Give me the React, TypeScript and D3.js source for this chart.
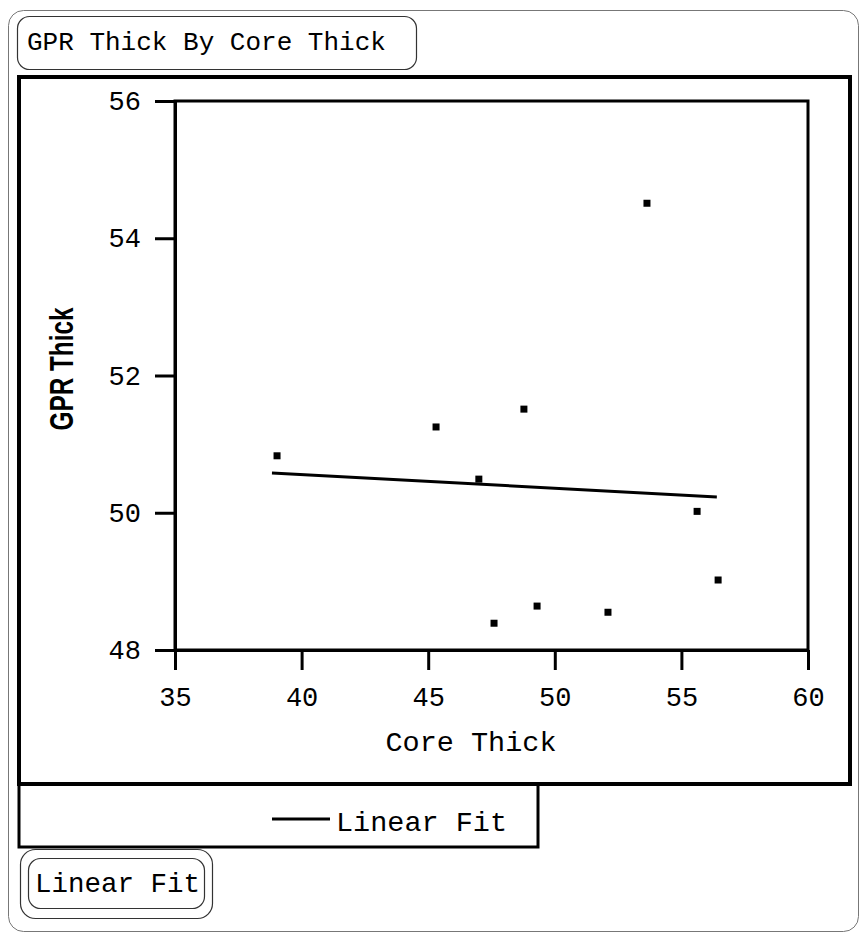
import React, { useEffect, useRef } from 'react';
import * as d3 from 'd3';

// Core Thick (x) vs GPR Thick (y)
const coreThick = [39.03, 45.31, 48.78, 47.0, 53.64, 55.62, 56.45, 47.6, 49.3, 52.1];
const gprThick = [50.83, 51.25, 51.51, 50.49, 54.51, 50.02, 49.02, 48.39, 48.64, 48.55];

// linear fit end points
const fitX = [38.83, 56.4];
const fitY = [50.58, 50.23];

const xTicks = [35, 40, 45, 50, 55, 60];
const yTicks = [48, 50, 52, 54, 56];

const mono = '"Liberation Mono", "Courier New", monospace';

function App() {
  const ref = useRef<SVGSVGElement>(null);
  const width = 860;
  const height = 935;

  useEffect(() => {
    drawChart();
  }, []);

  function drawChart() {
    const svg = d3.select(ref.current);
    svg.selectAll('*').remove();

    const plot = { left: 175, right: 808, top: 101, bottom: 650 };

    const xScale = d3.scaleLinear().domain([35, 60]).range([plot.left, plot.right]);
    const yScale = d3.scaleLinear().domain([48, 56]).range([plot.bottom, plot.top]);

    // outer window frame
    svg.append('rect')
      .attr('x', 8.5).attr('y', 10.5)
      .attr('width', 850).attr('height', 921)
      .attr('rx', 15)
      .attr('fill', 'none')
      .attr('stroke', '#777')
      .attr('stroke-width', 1);

    // title box
    svg.append('rect')
      .attr('x', 17.5).attr('y', 16.5)
      .attr('width', 399).attr('height', 53)
      .attr('rx', 12)
      .attr('fill', 'none')
      .attr('stroke', '#333')
      .attr('stroke-width', 1.2);
    svg.append('text')
      .attr('x', 27).attr('y', 50)
      .attr('font-family', mono)
      .attr('font-size', 26)
      .text('GPR Thick By Core Thick');

    // plot frame
    svg.append('rect')
      .attr('x', 19).attr('y', 77)
      .attr('width', 831).attr('height', 707)
      .attr('fill', 'none')
      .attr('stroke', '#000')
      .attr('stroke-width', 4);

    // legend box
    svg.append('rect')
      .attr('x', 19).attr('y', 784)
      .attr('width', 519).attr('height', 63)
      .attr('fill', 'none')
      .attr('stroke', '#000')
      .attr('stroke-width', 3);

    const g = svg.append('g');

    // axes box
    g.append('rect')
      .attr('x', plot.left).attr('y', plot.top)
      .attr('width', plot.right - plot.left)
      .attr('height', plot.bottom - plot.top)
      .attr('fill', 'none')
      .attr('stroke', '#000')
      .attr('stroke-width', 3);

    const xAxis = g.append('g')
      .attr('transform', `translate(0,${plot.bottom})`)
      .call(d3.axisBottom(xScale).tickValues(xTicks).tickSize(20).tickSizeOuter(0).tickPadding(17));
    const yAxis = g.append('g')
      .attr('transform', `translate(${plot.left},0)`)
      .call(d3.axisLeft(yScale).tickValues(yTicks).tickSize(20).tickSizeOuter(0).tickPadding(14));

    [xAxis, yAxis].forEach(a => {
      a.select('.domain').attr('stroke', '#000').attr('stroke-width', 3);
      a.selectAll('.tick line').attr('stroke', '#000').attr('stroke-width', 3);
      a.selectAll('.tick text')
        .attr('fill', '#000')
        .attr('font-family', mono)
        .attr('font-size', 27);
    });

    // axis titles
    g.append('text')
      .attr('x', 471).attr('y', 751)
      .attr('text-anchor', 'middle')
      .attr('font-family', mono)
      .attr('font-size', 28.5)
      .text('Core Thick');
    g.append('text')
      .attr('transform', 'translate(73,369) rotate(-90)')
      .attr('text-anchor', 'middle')
      .attr('font-family', '"Liberation Sans", Arial, sans-serif')
      .attr('font-weight', 'bold')
      .attr('font-size', 34)
      .attr('textLength', 123)
      .attr('lengthAdjust', 'spacingAndGlyphs')
      .text('GPR Thick');

    // fit line
    const line = d3.line<number>()
      .x(d => xScale(d))
      .y((d, i) => yScale(fitY[i]));
    g.append('path')
      .datum(fitX)
      .attr('d', line)
      .attr('fill', 'none')
      .attr('stroke', '#000')
      .attr('stroke-width', 3);

    // points
    g.selectAll('rect.pt')
      .data(coreThick)
      .enter()
      .append('rect')
      .attr('class', 'pt')
      .attr('x', d => xScale(d) - 3.5)
      .attr('y', (d, i) => yScale(gprThick[i]) - 3.5)
      .attr('width', 7)
      .attr('height', 7)
      .attr('fill', '#000');

    // legend
    svg.append('line')
      .attr('x1', 272).attr('x2', 330)
      .attr('y1', 819).attr('y2', 819)
      .attr('stroke', '#000')
      .attr('stroke-width', 3);
    svg.append('text')
      .attr('x', 336).attr('y', 831)
      .attr('font-family', mono)
      .attr('font-size', 28.5)
      .text('Linear Fit');

    // Linear Fit button
    svg.append('rect')
      .attr('x', 20.5).attr('y', 849.5)
      .attr('width', 192).attr('height', 69)
      .attr('rx', 15)
      .attr('fill', 'none')
      .attr('stroke', '#333')
      .attr('stroke-width', 1.2);
    svg.append('rect')
      .attr('x', 28.5).attr('y', 858.5)
      .attr('width', 176).attr('height', 50)
      .attr('rx', 12)
      .attr('fill', 'none')
      .attr('stroke', '#333')
      .attr('stroke-width', 1.2);
    svg.append('text')
      .attr('x', 35).attr('y', 892)
      .attr('font-family', mono)
      .attr('font-size', 27.5)
      .text('Linear Fit');
  }

  return (
    <svg
      ref={ref}
      width={width}
      height={height}
      style={{ position: 'absolute', left: 0, top: 0, background: '#fff' }}
    />
  );
}

export default App;
